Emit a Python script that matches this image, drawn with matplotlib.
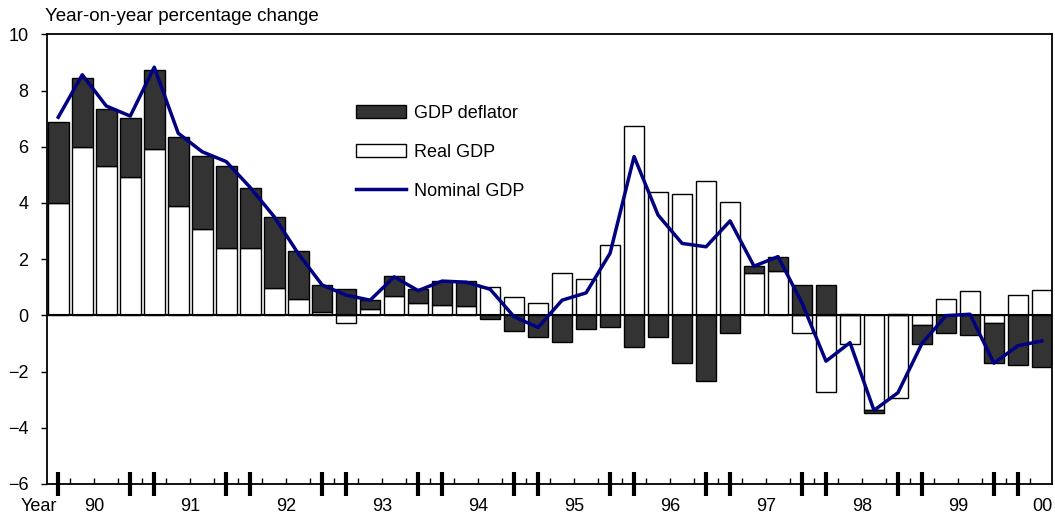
import matplotlib.pyplot as plt
import numpy as np

plt.rcParams['font.family'] = ['Liberation Sans', 'DejaVu Sans']

# quarterly, 1990 Q1 .. 2000 Q2
real_gdp = [4.00, 5.98, 5.31, 4.91, 5.92, 3.90, 3.07, 2.40, 2.40, 0.98, 0.58, 0.12,
            -0.27, 0.22, 0.70, 0.43, 0.37, 0.34, 1.02, 0.66, 0.44, 1.49, 1.28, 2.49,
            6.75, 4.40, 4.31, 4.79, 4.04, 1.49, 1.59, -0.64, -2.73, -1.03, -3.37, -2.93,
            -0.35, 0.59, 0.86, -0.26, 0.72, 0.92]
deflator = [2.89, 2.45, 2.04, 2.11, 2.80, 2.45, 2.60, 2.93, 2.12, 2.53, 1.71, 0.96,
            0.94, 0.31, 0.71, 0.51, 0.84, 0.87, -0.14, -0.56, -0.76, -0.96, -0.49, -0.43,
            -1.12, -0.77, -1.71, -2.33, -0.63, 0.26, 0.50, 1.07, 1.07, 0.06, -0.10, 0.06,
            -0.68, -0.64, -0.70, -1.45, -1.78, -1.85]
nominal = [7.05, 8.56, 7.45, 7.09, 8.83, 6.48, 5.82, 5.47, 4.55, 3.51, 2.20, 1.08,
           0.72, 0.54, 1.37, 0.88, 1.22, 1.18, 0.93, -0.05, -0.43, 0.54, 0.80, 2.21,
           5.65, 3.57, 2.56, 2.44, 3.36, 1.75, 2.09, 0.44, -1.63, -0.97, -3.38, -2.75,
           -1.00, -0.01, 0.04, -1.70, -1.08, -0.91]
year_labels = ['90', '91', '92', '93', '94', '95', '96', '97', '98', '99', '00']

q = np.arange(len(real_gdp))
real = np.array(real_gdp)
defl = np.array(deflator)
# deflator stacks on real when both have the same sign, else starts at zero
defl_bottom = np.where(np.sign(defl) == np.sign(real), real, 0.0)

fig = plt.figure(figsize=(10.55, 5.2), dpi=100)
ax = fig.add_axes([47/1055, 36/520, 1005/1055, 449.7/520])

w = 0.86
b_real = ax.bar(q, real, w, color='white', edgecolor='black', linewidth=1.0, zorder=2)
b_defl = ax.bar(q, defl, w, bottom=defl_bottom, color='#333333', edgecolor='black',
                linewidth=1.0, zorder=2)
ax.axhline(0, color='black', linewidth=1.5, zorder=3)
l_nom, = ax.plot(q, nominal, color='#000080', linewidth=2.5, zorder=4)

ax.set_xlim(-0.47, 41.42)
ax.set_ylim(-6, 10)
ax.set_yticks(range(-6, 11, 2))
ax.tick_params(axis='y', direction='out', length=4.3, width=1, pad=9, labelsize=13)

# thick ticks at first and last quarter of each year, thin ticks between bars
thick = sorted(list(range(0, 41, 4)) + list(range(3, 40, 4)))
ax.set_xticks(thick)
ax.set_xticklabels([])
ax.set_xticks(np.arange(0.5, 41, 1), minor=True)
ax.tick_params(axis='x', which='major', direction='inout', length=17, width=3)
ax.tick_params(axis='x', which='minor', direction='in', length=4.3, width=1)

for s in ax.spines.values():
    s.set_linewidth(1.3)

tr = ax.get_xaxis_transform()
label_pos = [1.5 + 4*i for i in range(10)] + [41.0]
for x, lab in zip(label_pos, year_labels):
    ax.text(x, -0.051, lab, transform=tr, ha='center', va='center', fontsize=13)
ax.text(-0.8, -0.051, 'Year', transform=tr, ha='center', va='center', fontsize=13)

fig.text(45/1055, 1 - 21/520, 'Year-on-year percentage change', fontsize=13.5,
         ha='left', va='baseline')

ax.legend([b_defl, b_real, l_nom], ['GDP deflator', 'Real GDP', 'Nominal GDP'],
          loc='upper left', bbox_to_anchor=(356/1055, 1 - 105/520),
          bbox_transform=fig.transFigure, frameon=False, borderpad=0, borderaxespad=0,
          fontsize=13, handlelength=2.77, handleheight=0.74, handletextpad=0.42,
          labelspacing=1.21)

fig.savefig('out.png', dpi=100)
